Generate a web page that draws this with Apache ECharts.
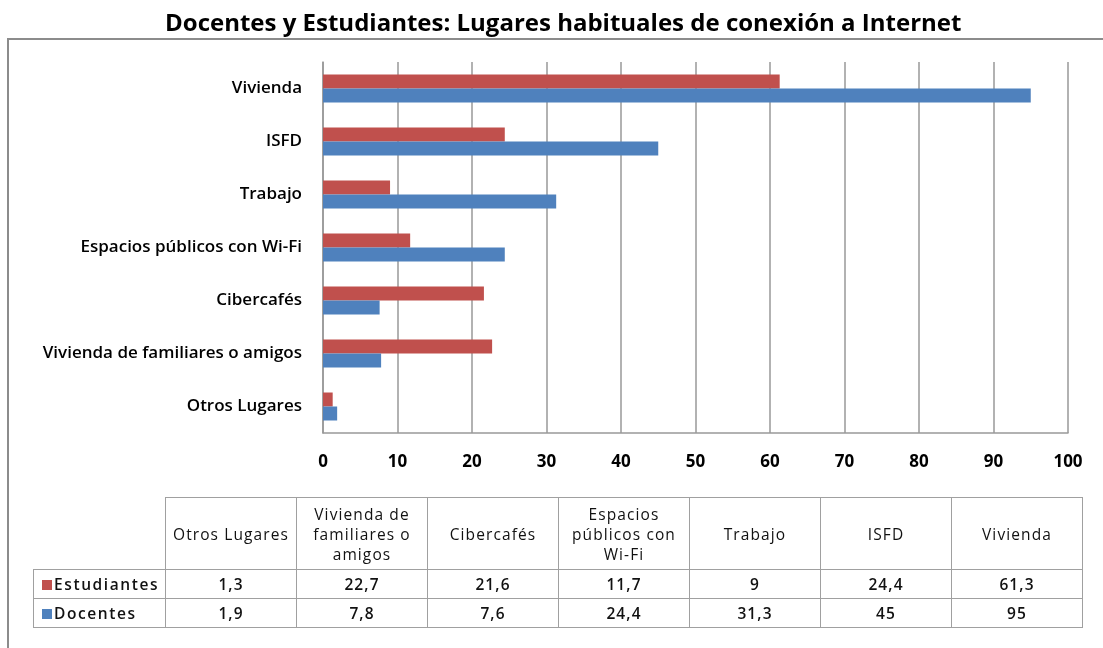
<!DOCTYPE html>
<html>
<head>
<meta charset="utf-8">
<script src="https://cdn.jsdelivr.net/npm/echarts@6/dist/echarts.min.js"></script>
<style>
  html, body { margin: 0; padding: 0; background: #fff; }
  #chart { position: absolute; left: 0; top: 0; width: 1103px; height: 648px; }
  #frame { position: absolute; left: 7px; top: 38px; width: 1100px; height: 620px;
           border-left: 2px solid #8c8c8c; border-top: 2px solid #8c8c8c; }
  #tbl { position: absolute; left: 33px; top: 497px; border-collapse: collapse;
         font-family: 'Open Sans', sans-serif; font-size: 15.5px; letter-spacing: 1.1px; color: #111; }
  #tbl td { border: 1.5px solid #a0a0a0; text-align: center; padding: 0; line-height: 20px; }
  #tbl td.hd { height: 71px; width: 130px; font-weight: 500; }
  #tbl td.v { height: 28px; font-weight: 600; }
  #tbl td.lg { text-align: left; padding-left: 8px; width: 123px; font-weight: 600; letter-spacing: 1.6px; }
  #tbl td.blank { border: none; border-right: 1.5px solid #a0a0a0; border-bottom: 1.5px solid #a0a0a0; }
  .sw { display: inline-block; width: 10px; height: 10px; margin-right: 2px; }
</style>
</head>
<body>
<div id="frame"></div>
<div id="chart"></div>
<table id="tbl"></table>
<script>
// datos
var lugares = ['Otros Lugares', 'Vivienda de familiares o amigos', 'Cibercafés',
  'Espacios públicos con Wi-Fi', 'Trabajo', 'ISFD', 'Vivienda'];
var lugaresTabla = ['Otros Lugares', 'Vivienda de<br>familiares o<br>amigos', 'Cibercafés',
  'Espacios<br>públicos con<br>Wi-Fi', 'Trabajo', 'ISFD', 'Vivienda'];
var estudiantes = [1.3, 22.7, 21.6, 11.7, 9, 24.4, 61.3];
var docentes = [1.9, 7.8, 7.6, 24.4, 31.3, 45, 95];
var colorEst = '#c0504d';
var colorDoc = '#4f81bd';

var fmt = function (v) { return String(v).replace('.', ','); };

// tabla de datos
var html = '<tr><td class="blank"></td>';
lugaresTabla.forEach(function (l) { html += '<td class="hd">' + l + '</td>'; });
html += '</tr>';
[['Estudiantes', colorEst, estudiantes], ['Docentes', colorDoc, docentes]].forEach(function (r) {
  html += '<tr><td class="lg v"><span class="sw" style="background:' + r[1] + '"></span>' + r[0] + '</td>';
  r[2].forEach(function (v) { html += '<td class="v">' + fmt(v) + '</td>'; });
  html += '</tr>';
});
document.getElementById('tbl').innerHTML = html;

var chart = echarts.init(document.getElementById('chart'));
chart.setOption({
  animation: false,
  textStyle: { fontFamily: '"Open Sans", sans-serif' },
  title: {
    text: 'Docentes y Estudiantes: Lugares habituales de conexión a Internet',
    left: 160,
    top: 7,
    textStyle: { fontSize: 24, fontWeight: 'bold', color: '#000' }
  },
  grid: { left: 323, right: 35, top: 62, height: 371 },
  xAxis: {
    type: 'value',
    min: 0,
    max: 100,
    interval: 10,
    axisLine: { show: true, lineStyle: { color: '#999', width: 1.5 } },
    axisTick: { show: false },
    splitLine: { lineStyle: { color: '#999', width: 1.5 } },
    axisLabel: { color: '#000', fontSize: 17, fontWeight: 'bold', margin: 21 }
  },
  yAxis: {
    type: 'category',
    data: lugares,
    axisLine: { lineStyle: { color: '#999', width: 1.5 } },
    axisTick: { show: false },
    axisLabel: { color: '#000', fontSize: 17, fontWeight: 600, margin: 21 }
  },
  series: [
    { name: 'Estudiantes', type: 'bar', data: estudiantes, barWidth: 14, barGap: '0%',
      itemStyle: { color: colorEst } },
    { name: 'Docentes', type: 'bar', data: docentes, barWidth: 14, barGap: '0%',
      itemStyle: { color: colorDoc } }
  ]
});
</script>
</body>
</html>
